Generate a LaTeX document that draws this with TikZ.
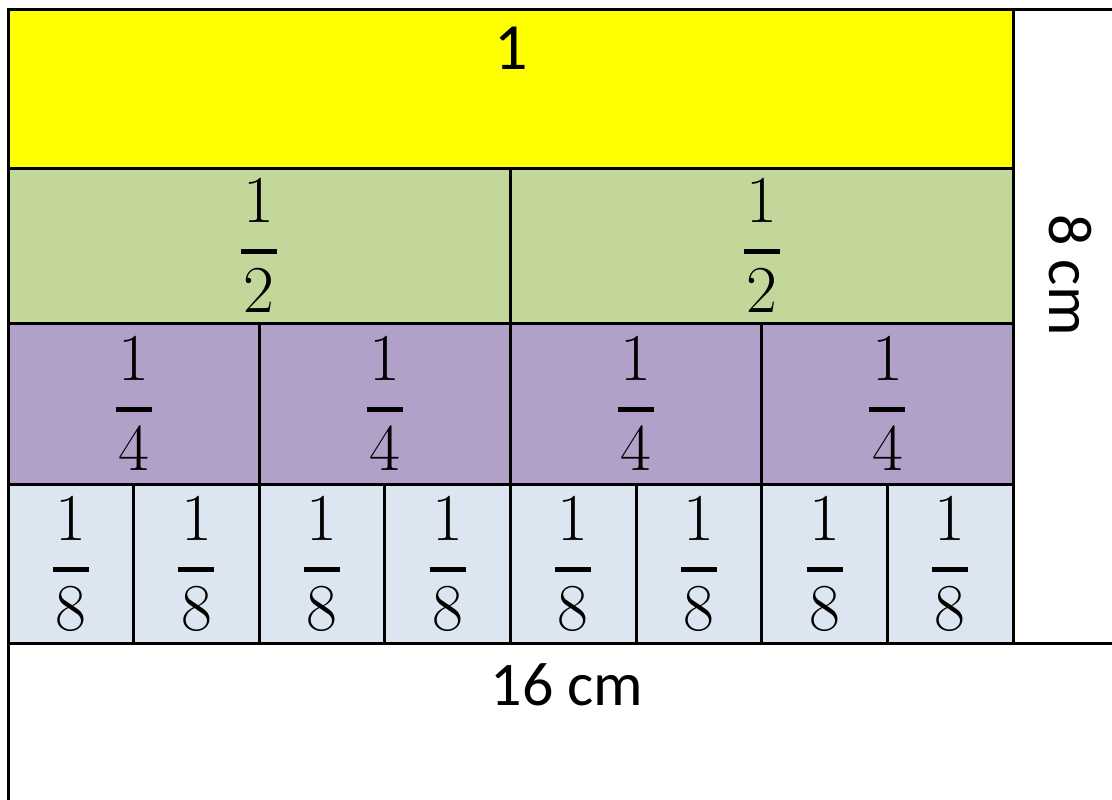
\documentclass[tikz,border=0pt]{standalone}
\usepackage{fontspec}
\newfontfamily\calfont{Carlito}
\definecolor{cyel}{HTML}{FFFF00}
\definecolor{cgrn}{HTML}{C4D79B}
\definecolor{cpur}{HTML}{B1A0C7}
\definecolor{cblu}{HTML}{DCE6F1}
\newcommand{\fr}[2]{\vbox{\offinterlineskip\halign{\hfil##\hfil\cr
  \smash{#1}\rule{0pt}{43pt}\cr\noalign{\vskip27pt}
  \rule{36pt}{5pt}\cr\noalign{\vskip16pt}
  \smash{#2}\rule{0pt}{42pt}\cr}}}
\begin{document}
\begin{tikzpicture}[x=1pt,y=-1pt,
  cell/.style={draw=black, line width=3pt, inner sep=0pt, outer sep=0pt, anchor=north west,
    font=\fontsize{67}{67}\selectfont},
  tbl/.style={draw=black, line width=3pt},
  lab/.style={inner sep=0pt, outer sep=0pt, font=\calfont\fontsize{62}{62}\selectfont}]
\useasboundingbox (0,0) rectangle (1112,800);
\fill[white] (0,0) rectangle (1112,800);
% row 1
\node[cell, fill=cyel, minimum width=1005pt, minimum height=158pt] (y1) at (8,10) {};
\node[lab, anchor=base, font=\calfont\fontsize{66}{66}\selectfont] (t1) at (511,70) {1};
% row 2
\foreach \i in {0,1}{
  \node[cell, fill=cgrn, minimum width=502.5pt, minimum height=155pt] (h\i) at ({8+502.5*\i},168) {\fr{1}{2}};
}
% row 3
\foreach \i in {0,...,3}{
  \node[cell, fill=cpur, minimum width=251.25pt, minimum height=161pt] (q\i) at ({8+251.25*\i},323) {\fr{1}{4}};
}
% row 4
\foreach \i in {0,...,7}{
  \node[cell, fill=cblu, minimum width=125.625pt, minimum height=159pt] (e\i) at ({8+125.625*\i},484) {\fr{1}{8}};
}
\coordinate (tr) at (1112,10);
\coordinate (mr) at (1112,643);
\coordinate (bl) at (8,800);
\draw[tbl] (y1.north east) -- (tr);
\draw[tbl] (e7.south east) -- (mr);
\draw[tbl] (e0.south west) -- (bl);
\node[lab, anchor=base] (w) at (567,705) {16 cm};
\node[lab, anchor=base, rotate=-90] (h) at (1049,275) {8 cm};
\end{tikzpicture}
\end{document}
